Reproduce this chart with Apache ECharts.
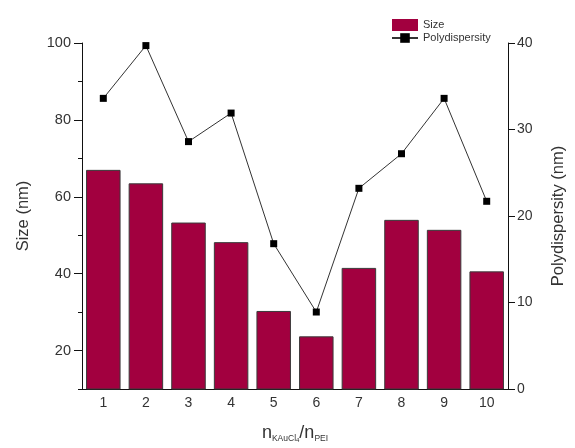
<!DOCTYPE html>
<html>
<head>
<meta charset="utf-8">
<script src="https://cdn.jsdelivr.net/npm/echarts@6/dist/echarts.min.js"></script>
<style>
html,body{margin:0;padding:0;background:#fff;}
#chart{width:575px;height:448px;}
</style>
</head>
<body>
<div id="chart"></div>
<script>
const categories = ['1','2','3','4','5','6','7','8','9','10'];
const sizeValues = [67.0, 63.5, 53.3, 48.2, 30.3, 23.7, 41.5, 54.0, 51.4, 40.6];
const polyValues = [33.6, 39.7, 28.6, 31.9, 16.8, 8.9, 23.2, 27.2, 33.6, 21.7];
const sizeMajorTicks = [20, 40, 60, 80, 100];
const sizeMinorTicks = [10, 30, 50, 70, 90];
const polyTicks = [0, 10, 20, 30, 40];

const FONT = 'Liberation Sans, Arial, sans-serif';
const chart = echarts.init(document.getElementById('chart'), null, {renderer: 'canvas'});
chart.setOption({
  animation: false,
  backgroundColor: '#fff',
  textStyle: {fontFamily: FONT},
  legend: {
    orient: 'vertical',
    left: 386,
    top: 14,
    itemWidth: 26,
    itemHeight: 12,
    itemGap: 1.5,
    textStyle: {fontSize: 11, color: '#333', fontFamily: FONT},
    data: [
      {name: 'Size', icon: 'rect', itemStyle: {borderWidth: 0}},
      {name: 'Polydispersity'}
    ]
  },
  grid: {left: 82, right: 62, top: 43, bottom: 59, containLabel: false},
  xAxis: {
    type: 'category',
    data: categories,
    boundaryGap: true,
    axisLine: {lineStyle: {color: '#111', width: 1}},
    axisTick: {show: false},
    axisLabel: {fontSize: 14, color: '#333', margin: 7, fontFamily: FONT},
    name: '{n|n}{s|KAuCl}{ss|4}{n|/n}{s|PEI}',
    nameLocation: 'middle',
    nameGap: 34,
    nameTextStyle: {
      fontFamily: FONT,
      color: '#333',
      rich: {
        n: {fontSize: 18, lineHeight: 20, verticalAlign: 'middle', fontFamily: FONT, color: '#333'},
        s: {fontSize: 8.5, lineHeight: 7, verticalAlign: 'bottom', fontFamily: FONT, color: '#333'},
        ss: {fontSize: 6, lineHeight: 1, verticalAlign: 'bottom', fontFamily: FONT, color: '#333'}
      }
    }
  },
  yAxis: [
    {
      type: 'value',
      position: 'left',
      min: 10,
      max: 100,
      interval: 10,
      splitLine: {show: false},
      axisLine: {show: true, lineStyle: {color: '#111', width: 1}},
      axisTick: {show: true, length: 8, customValues: sizeMajorTicks, lineStyle: {color: '#111'}},
      axisLabel: {fontSize: 14.5, color: '#333', margin: 11, customValues: sizeMajorTicks, fontFamily: FONT},
      name: 'Size (nm)',
      nameLocation: 'middle',
      nameGap: 50,
      nameTextStyle: {fontSize: 16.5, color: '#333', fontFamily: FONT}
    },
    {
      type: 'value',
      position: 'right',
      min: 0,
      max: 40,
      interval: 10,
      splitLine: {show: false},
      axisLine: {show: true, lineStyle: {color: '#111', width: 1}},
      axisTick: {show: true, length: 7, customValues: polyTicks, lineStyle: {color: '#111'}},
      axisLabel: {fontSize: 14, color: '#333', margin: 9, customValues: polyTicks, fontFamily: FONT},
      name: 'Polydispersity (nm)',
      nameLocation: 'middle',
      nameGap: 42,
      nameTextStyle: {fontSize: 16.5, color: '#333', fontFamily: FONT}
    },
    {
      type: 'value',
      position: 'left',
      min: 10,
      max: 100,
      interval: 10,
      splitLine: {show: false},
      axisLine: {show: false},
      axisTick: {show: true, length: 4, customValues: sizeMinorTicks, lineStyle: {color: '#111'}},
      axisLabel: {show: false}
    }
  ],
  series: [
    {
      name: 'Size',
      type: 'bar',
      yAxisIndex: 0,
      data: sizeValues,
      barCategoryGap: '19%',
      itemStyle: {color: '#a2003f', borderColor: '#3a3a3a', borderWidth: 1},
      z: 2
    },
    {
      name: 'Polydispersity',
      type: 'line',
      yAxisIndex: 1,
      data: polyValues,
      symbol: 'rect',
      symbolSize: 7,
      lineStyle: {color: '#333', width: 1},
      itemStyle: {color: '#000'},
      z: 3
    }
  ]
});
</script>
</body>
</html>
